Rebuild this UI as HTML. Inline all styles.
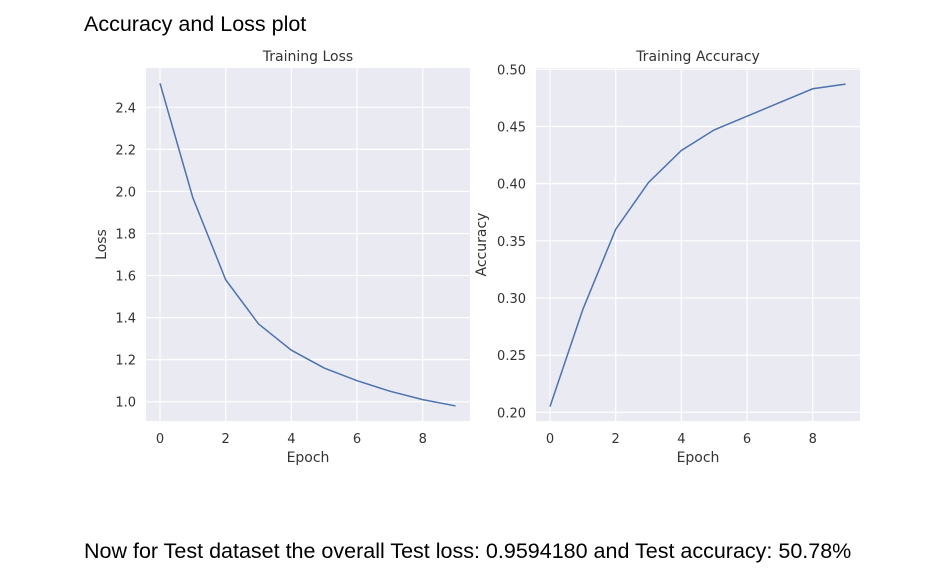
<!DOCTYPE html>
<html><head><meta charset="utf-8"><style>
body{margin:0;background:#fff;width:951px;height:586px;overflow:hidden;position:relative;font-family:"Liberation Sans",sans-serif}
.h{position:absolute;color:#000;font-size:21.5px;white-space:nowrap}
svg text{font-family:"DejaVu Sans",sans-serif;fill:#333}
</style></head><body>
<div class="h" style="left:84px;top:12px">Accuracy and Loss plot</div>
<svg id="s" width="951" height="586" style="position:absolute;left:0;top:0"></svg>
<div class="h" style="left:84px;top:539px">Now for Test dataset the overall Test loss: 0.9594180 and Test accuracy: 50.78%</div>
<script>
const epochs=[0,1,2,3,4,5,6,7,8,9];
const lossValues=[2.514,1.97,1.58,1.37,1.245,1.16,1.10,1.05,1.01,0.98];
const accValues=[0.205,0.29,0.36,0.401,0.429,0.447,0.459,0.471,0.483,0.487];
const xTicks=[0,2,4,6,8];
const lossTicks=[1.0,1.2,1.4,1.6,1.8,2.0,2.2,2.4];
const accTicks=[0.20,0.25,0.30,0.35,0.40,0.45,0.50];
const NS="http://www.w3.org/2000/svg";
const svg=document.getElementById('s');
function mk(t,a,p){const e=document.createElementNS(NS,t);for(const k in a)e.setAttribute(k,a[k]);(p||svg).appendChild(e);return e;}
function panel(o){
  const g=mk('g',{});
  
  
  const bg=mk('rect',{x:o.l,y:o.t,width:o.r-o.l,height:o.b-o.t,fill:'#eaeaf2'},g);
  
  
  const xs=v=>o.x0+(v-0)*o.xs;
  const ys=v=>o.yref+(o.vref-v)*o.ys;
  xTicks.forEach(v=>{
    const l=mk('line',{x1:xs(v),x2:xs(v),y1:o.t,y2:o.b,stroke:'#fff','stroke-width':1.2},g);
    
    
    const t=mk('text',{x:xs(v),y:o.b+22,'text-anchor':'middle','font-size':13},g);t.textContent=v;
    
    
  });
  o.yt.forEach(v=>{
    const l=mk('line',{x1:o.l,x2:o.r,y1:ys(v),y2:ys(v),stroke:'#fff','stroke-width':1.2},g);
    
    
    const t=mk('text',{x:o.l-10,y:ys(v)+5,'text-anchor':'end','font-size':13},g);t.textContent=v.toFixed(o.dec);
    
    
  });
  const p=mk('polyline',{points:epochs.map((e,i)=>xs(e)+','+ys(o.vals[i])).join(' '),fill:'none',stroke:'#4c72b0','stroke-width':1.5},g);
  
  
  const ti=mk('text',{x:(o.l+o.r)/2,y:o.t-7,'text-anchor':'middle','font-size':14},g);ti.textContent=o.title;
  
  
  const xl=mk('text',{x:(o.l+o.r)/2,y:o.b+41,'text-anchor':'middle','font-size':14},g);xl.textContent='Epoch';
  
  
  const cy=(o.t+o.b)/2;
  const yl=mk('text',{x:o.ylx,y:cy,'text-anchor':'middle','font-size':14,transform:`rotate(-90 ${o.ylx} ${cy})`},g);yl.textContent=o.ylabel;
  
  
}
panel({name:'training-loss',l:146,r:470,t:68,b:421,x0:160,xs:32.84,yref:107.3,vref:2.4,ys:210.3,yt:lossTicks,dec:1,vals:lossValues,title:'Training Loss',ylabel:'Loss',ylx:106});
panel({name:'training-accuracy',l:536,r:860,t:68,b:421,x0:550,xs:32.84,yref:412.3,vref:0.20,ys:1143.3,yt:accTicks,dec:2,vals:accValues,title:'Training Accuracy',ylabel:'Accuracy',ylx:486});
</script>
</body></html>
